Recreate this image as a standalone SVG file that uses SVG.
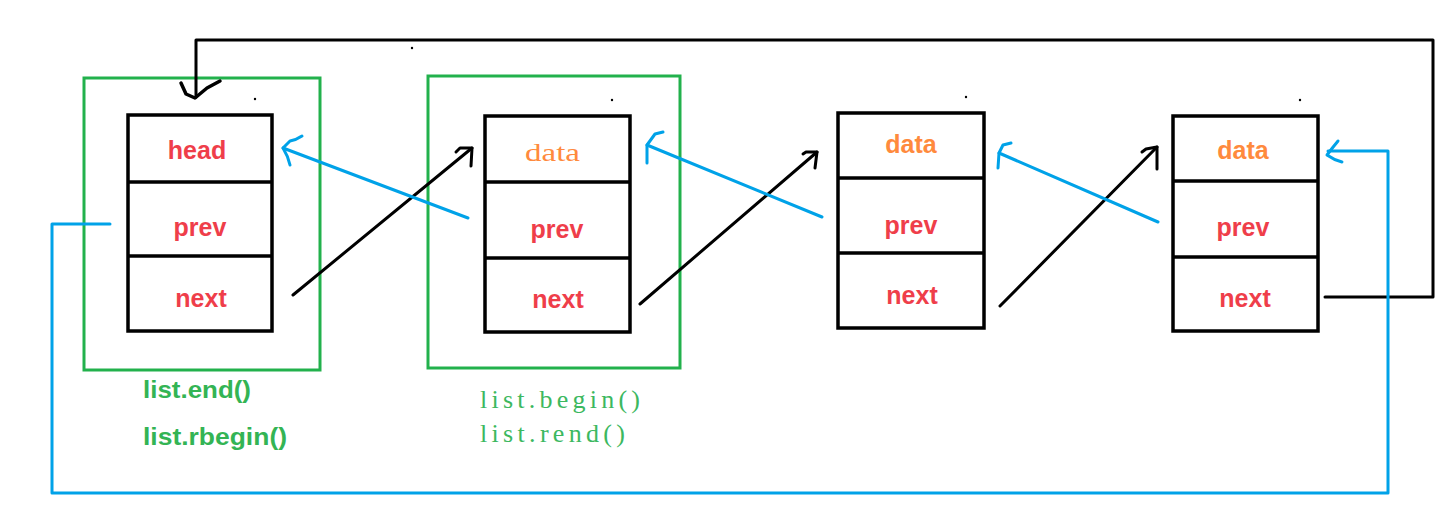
<svg xmlns="http://www.w3.org/2000/svg" width="1438" height="514" viewBox="0 0 1438 514">
<style>
.box{fill:#fff;stroke:#000;stroke-width:3.5}
.div{stroke:#000;stroke-width:3.5}
.frame{fill:none;stroke:#22b14c;stroke-width:3}
.blk{fill:none;stroke:#000;stroke-width:3;stroke-linecap:round;stroke-linejoin:round}
.blu{fill:none;stroke:#00a2e8;stroke-width:3;stroke-linecap:round;stroke-linejoin:round}
.f{font-family:"Liberation Sans","Noto Sans",Arial,sans-serif;font-weight:bold;font-size:25px;text-anchor:middle}
.red{fill:#ef3e4a}
.org{fill:#ff8a3d}
.serif{font-family:"Liberation Serif","Noto Serif",serif;font-size:25px}
.gb{font-family:"Liberation Sans","Noto Sans",Arial,sans-serif;font-weight:bold;font-size:24px;fill:#33b454}
.gs{font-family:"Liberation Serif",serif;font-size:26px;fill:#3cb860}
</style>
<rect width="1438" height="514" fill="#fff"/>
<g id="frames">
<rect class="frame" x="84" y="78" width="236" height="292"/>
<rect class="frame" x="428" y="76" width="252" height="292"/>
</g>
<g id="node-head">
<rect class="box" x="128" y="115" width="144" height="216"/>
<line class="div" x1="128" y1="182" x2="272" y2="182"/>
<line class="div" x1="128" y1="256" x2="272" y2="256"/>
<text class="f red" x="197" y="159">head</text>
<text class="f red" x="200" y="236">prev</text>
<text class="f red" x="201" y="307">next</text>
</g>
<g id="node-2">
<rect class="box" x="485" y="116" width="145" height="216"/>
<line class="div" x1="485" y1="182" x2="630" y2="182"/>
<line class="div" x1="485" y1="258" x2="630" y2="258"/>
<text class="serif org" x="525" y="161" textLength="55" lengthAdjust="spacingAndGlyphs">data</text>
<text class="f red" x="557" y="238">prev</text>
<text class="f red" x="558" y="308">next</text>
</g>
<g id="node-3">
<rect class="box" x="838" y="113" width="146" height="215"/>
<line class="div" x1="838" y1="178" x2="984" y2="178"/>
<line class="div" x1="838" y1="253" x2="984" y2="253"/>
<text class="f org" x="911" y="153">data</text>
<text class="f red" x="911" y="234">prev</text>
<text class="f red" x="912" y="304">next</text>
</g>
<g id="node-4">
<rect class="box" x="1173" y="116" width="145" height="215"/>
<line class="div" x1="1173" y1="181" x2="1318" y2="181"/>
<line class="div" x1="1173" y1="257" x2="1318" y2="257"/>
<text class="f org" x="1243" y="159">data</text>
<text class="f red" x="1243" y="236">prev</text>
<text class="f red" x="1245" y="307">next</text>
</g>
<g id="labels">
<text class="gb" x="143" y="398" textLength="108" lengthAdjust="spacingAndGlyphs">list.end()</text>
<text class="gb" x="143" y="445" textLength="144" lengthAdjust="spacingAndGlyphs">list.rbegin()</text>
<text class="gs" x="480" y="408" textLength="160" lengthAdjust="spacing">list.begin()</text>
<text class="gs" x="480" y="442" textLength="145" lengthAdjust="spacing">list.rend()</text>
</g>
<g id="connectors">
<polyline class="blk" points="1325,297 1433,297 1433,40 196,40 196,97"/>
<polyline class="blk" style="stroke-width:3.5" points="181,83 186,94 195,98 207,88 220,81"/>
<line class="blk" x1="293" y1="295" x2="472" y2="148"/>
<polyline class="blk" points="456,152 460,148 472,148 471,166"/>
<line class="blk" x1="640" y1="304" x2="817" y2="152"/>
<polyline class="blk" points="803,154 806,152 817,152 815,168"/>
<line class="blk" x1="1000" y1="306" x2="1157" y2="147"/>
<polyline class="blk" points="1142,152 1146,149 1157,147 1157,169"/>
<line class="blu" x1="468" y1="218" x2="283" y2="148"/>
<path class="blu" d="M302,136 Q296,140 290,141 L283,148 Q288,156 290,165"/>
<line class="blu" x1="822" y1="217" x2="647" y2="145"/>
<path class="blu" d="M663,132 L655,134 L647,145 L647,163"/>
<line class="blu" x1="1158" y1="222" x2="999" y2="153"/>
<path class="blu" d="M1011,143 L1003,145 L999,153 L998,168"/>
<polyline class="blu" points="110,224 52,224 52,493 1388,493 1388,151 1328,151"/>
<path class="blu" d="M1338,141 Q1333,147 1327,155 Q1334,160 1342,162"/>
</g>
<g id="dots" fill="#000">
<circle cx="412" cy="48" r="1.2"/>
<circle cx="255" cy="99" r="1.2"/>
<circle cx="612" cy="100" r="1.2"/>
<circle cx="966" cy="97" r="1.2"/>
<circle cx="1300" cy="100" r="1.2"/>
</g>
</svg>
